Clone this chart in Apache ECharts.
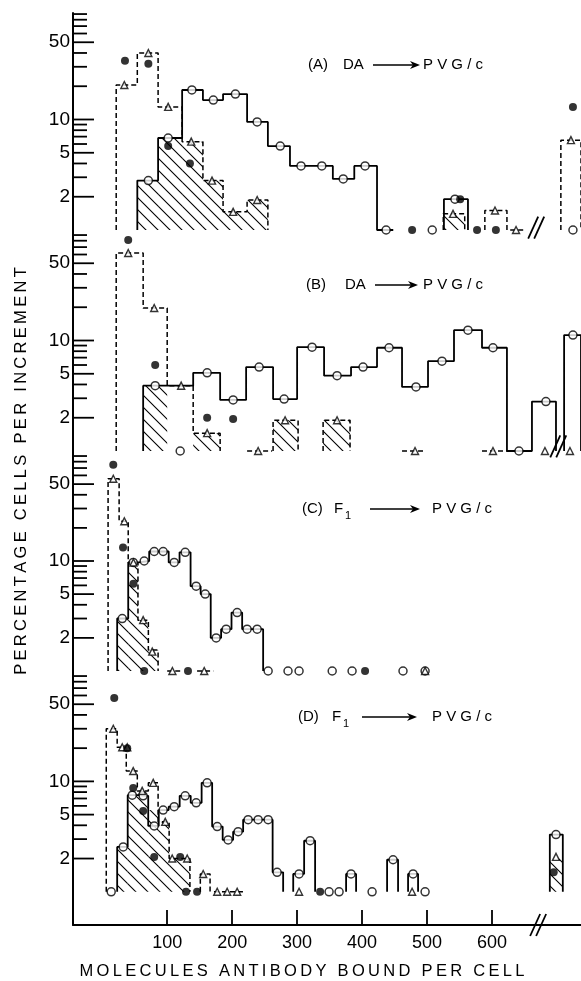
<!DOCTYPE html>
<html>
<head>
<meta charset="utf-8">
<script src="https://cdn.jsdelivr.net/npm/echarts@6/dist/echarts.min.js"></script>
<style>
html, body { margin: 0; background: #fff; }
#chart { width: 581px; height: 981px; }
</style>
</head>
<body>
<div id="chart"></div>
<script>
// x: molecules antibody bound per cell, y: percentage cells per increment (log)
var X_MIN = -45, X_MAX = 737, BASE = 1;
var xTicks = [100, 200, 300, 400, 500, 600];
var yMajor = [2, 5, 10, 50];
var yMinor = [3, 4, 6, 7, 8, 9, 20, 30, 40, 60, 70, 80, 90];

// (A) DA -> PVG/c
var aSolidEdges = [54, 86, 123, 155, 186, 223, 255, 289, 323, 355, 388, 423, 448, 526, 563];
var aSolidVals = [2.8, 6.8, 18.5, 15, 17, 9.5, 5.75, 3.8, 3.8, 2.9, 3.8, 1, null, 1.9];
var aDashEdges = [21.5, 54, 86, 123, 155, 186, 223, 255, 525, 558, 589, 623, 628, 651, 706, 737];
var aDashVals = [20.5, 40, 13, 6.3, 2.8, 1.46, 1.87, null, 1.4, null, 1.5, null, 1, null, 6.5];
var aOpen = [[71, 2.8], [101.5, 6.8], [138, 18.5], [171, 15], [205, 17], [238.5, 9.5], [274, 5.75],
  [306, 3.8], [338, 3.8], [371, 2.9], [404.6, 3.8], [437, 1], [508, 1], [543, 1.9], [724.6, 1]];
var aTri = [[34, 20.5], [71, 40], [101.5, 13], [137, 6.3], [169, 2.8], [201.5, 1.46], [238.5, 1.87],
  [540, 1.4], [604.6, 1.5], [637, 1], [721.5, 6.5]];
var aFilled = [[35, 34], [71, 32], [101.5, 5.75], [135, 4.0], [477, 1], [551, 1.9], [577, 1], [606, 1], [724.6, 13]];
var aHatch = [[54, 86, 2.8], [86, 123, 6.8], [123, 155, 6.3], [155, 186, 2.8], [186, 223, 1.46],
  [223, 255, 1.87], [525, 558, 1.4]];
var aBreak = [[668, 1.05]];

// (B) DA -> PVG/c
var bSolidEdges = [63, 100, 140, 181.5, 221.5, 263, 300, 341.5, 383, 423, 461.5, 501.5, 541.5, 584.6, 623, 661.5, 698.5, 711, 737];
var bSolidVals = [3.9, 3.9, 5.1, 2.9, 5.75, 2.95, 8.7, 4.8, 5.75, 8.6, 3.8, 6.5, 12.4, 8.6, 1, 2.8, null, 11.2];
var bDashEdges = [21.5, 63, 100, 140, 181.5, 223, 261.5, 263, 301.5, 340, 381.5, 461.5, 497, 584.6, 623];
var bDashVals = [62, 19.7, 3.9, 1.45, null, 1, null, 1.9, null, 1.9, null, 1, null, 1];
var bOpen = [[81.5, 3.9], [120, 1], [161.5, 5.1], [201.5, 2.9], [241.5, 5.75], [280, 2.95], [323, 8.7],
  [361.5, 4.8], [401.5, 5.75], [441.5, 8.6], [483, 3.8], [523, 6.5], [563, 12.4], [601.5, 8.6],
  [641.5, 1], [683, 2.8], [724.6, 11.2]];
var bTri = [[40, 62], [80, 19.7], [121.5, 3.9], [161.5, 1.45], [240, 1], [281.5, 1.9], [361.5, 1.9],
  [481.5, 1], [601.5, 1], [681.5, 1], [720, 1]];
var bFilled = [[40, 81], [81.5, 6.0], [161.5, 2.0], [201.5, 1.95]];
var bHatch = [[63, 100, 3.9], [140, 181.5, 1.45], [263, 301.5, 1.9], [340, 381.5, 1.9]];
var bBreak = [[702, 1.1]];

// (C) F1 -> PVG/c
var cSolidEdges = [23, 40, 56, 72.3, 87, 102.3, 119, 136, 151.5, 167, 183, 199, 215.4, 231, 247.7];
var cSolidVals = [3.0, 9.7, 10, 12.2, 12.2, 9.7, 12, 5.9, 5.0, 2.0, 2.4, 3.4, 2.4, 2.4];
var cDashEdges = [9, 26, 40, 55, 71, 86, 100, 120, 146, 171];
var cDashVals = [56, 23, 9.7, 2.9, 1.55, null, 1, null, 1];
var cOpen = [[30.8, 3.0], [47.7, 9.7], [64.6, 10], [80, 12.2], [93.8, 12.2], [110.8, 9.7], [127.7, 12],
  [144.6, 5.9], [158.5, 5], [175.4, 2.0], [190.8, 2.4], [207.7, 3.4], [223, 2.4], [238.5, 2.4],
  [255.4, 1], [286, 1], [303, 1], [354, 1], [384.6, 1], [463, 1], [497, 1]];
var cTri = [[17, 56], [34, 23], [48, 9.7], [63, 2.9], [77, 1.5], [108, 1], [157, 1], [497, 1]];
var cFilled = [[17, 75], [32, 13.3], [48, 6.2], [64.6, 1], [132, 1], [404.6, 1]];
var cHatch = [[23, 40, 3.0], [40, 55, 9.7], [55, 71, 2.9], [71, 86, 1.55]];
var cBreak = [];

// (D) F1 -> PVG/c
var dSolidEdges = [23, 39.2, 54.6, 70.8, 87, 102.3, 119.2, 136.2, 153, 169.2, 185.4, 201.5, 216.9, 232.3,
  247.7, 262.3, 278.5, 294, 310.8, 327.7, 375.4, 390.8, 438.5, 455.4, 470.8, 486.2, 689, 709];
var dSolidVals = [2.55, 7.5, 7.4, 3.95, 5.5, 5.9, 7.4, 6.4, 9.7, 3.9, 2.95, 3.5, 4.5, 4.5, 4.5, 1.5,
  null, 1.45, 2.9, null, 1.45, null, 1.95, null, 1.45, null, 3.3];
var dDashEdges = [6.2, 23, 37, 54, 71, 86, 103, 135, 151, 166, 172, 220];
var dDashVals = [30, 20.4, 12.4, 8.2, 9.7, 4.3, 2.0, null, 1.45, null, 1];
var dOpen = [[13.8, 1], [32.3, 2.55], [46.2, 7.5], [63, 7.4], [80, 3.95], [93.8, 5.5], [110.8, 5.9],
  [127.7, 7.4], [144.6, 6.4], [161.5, 9.7], [177, 3.9], [193.8, 2.95], [209.2, 3.5], [224.6, 4.5],
  [240, 4.5], [255.4, 4.5], [269.2, 1.5], [303, 1.45], [320, 2.9], [349.2, 1], [364.6, 1], [383, 1.45],
  [415.4, 1], [447.7, 1.95], [478.5, 1.45], [497, 1], [698.5, 3.3]];
var dTri = [[17, 30], [30.8, 20.4], [38.5, 20.4], [47.7, 12.4], [61.5, 8.2], [78.5, 9.7], [97, 4.3],
  [107.7, 2.0], [130.8, 2.0], [155.4, 1.45], [177, 1], [192.3, 1], [207.7, 1], [303, 1], [477, 1], [698.5, 2.07]];
var dFilled = [[18.5, 57], [38.5, 20], [47.7, 8.7], [63, 5.4], [80, 2.07], [120, 2.07], [129, 1], [146, 1],
  [335.4, 1], [695, 1.5]];
var dHatch = [[23, 39.2, 2.55], [39.2, 71, 7.4], [71, 86, 5.5], [86, 103, 4.3], [103, 135, 2.0], [689, 709, 2.0]];
var dBreak = [[671, 0.5]];

var panels = [
  { top: 13, height: 217, yMin: 1, yMax: 92, solidE: aSolidEdges, solidV: aSolidVals, dashE: aDashEdges, dashV: aDashVals,
    open: aOpen, tri: aTri, filled: aFilled, hatch: aHatch, brk: aBreak },
  { top: 230, height: 221, yMin: 1, yMax: 100, solidE: bSolidEdges, solidV: bSolidVals, dashE: bDashEdges, dashV: bDashVals,
    open: bOpen, tri: bTri, filled: bFilled, hatch: bHatch, brk: bBreak },
  { top: 451, height: 220, yMin: 1, yMax: 100, solidE: cSolidEdges, solidV: cSolidVals, dashE: cDashEdges, dashV: cDashVals,
    open: cOpen, tri: cTri, filled: cFilled, hatch: cHatch, brk: cBreak },
  { top: 671, height: 254, yMin: 0.5, yMax: 100, solidE: dSolidEdges, solidV: dSolidVals, dashE: dDashEdges, dashV: dDashVals,
    open: dOpen, tri: dTri, filled: dFilled, hatch: dHatch, brk: dBreak }
];

// hatch pattern, lines running down to the right
var hatchCanvas = document.createElement('canvas');
hatchCanvas.width = 12;
hatchCanvas.height = 12;
var hg = hatchCanvas.getContext('2d');
hg.strokeStyle = '#000';
hg.lineWidth = 1.1;
hg.beginPath();
hg.moveTo(-1, -1); hg.lineTo(13, 13);
hg.moveTo(-1, 11); hg.lineTo(1, 13);
hg.moveTo(11, -1); hg.lineTo(13, 1);
hg.stroke();
var hatchFill = { image: hatchCanvas, repeat: 'repeat' };

// histogram outline from bin edges; null = no bar in that bin
function stepPts(edges, vals) {
  var pts = [], open = false;
  for (var i = 0; i < vals.length; i++) {
    var v = vals[i];
    if (v == null) {
      if (open) { pts.push([edges[i], BASE]); pts.push([edges[i], '-']); open = false; }
      continue;
    }
    if (!open) { pts.push([edges[i], BASE]); open = true; }
    pts.push([edges[i], v], [edges[i + 1], v]);
  }
  if (open) pts.push([edges[vals.length], BASE]);
  return pts;
}

var tickData = yMajor.map(function (v) { return [X_MIN, v, 1]; })
  .concat(yMinor.map(function (v) { return [X_MIN, v, 0]; }));

function tickItem(params, api) {
  var v = api.value(1), major = api.value(2);
  var pt = api.coord([X_MIN, v]);
  var kids = [{
    type: 'line',
    shape: { x1: pt[0], y1: pt[1], x2: pt[0] + (major ? 21 : 14), y2: pt[1] },
    style: { stroke: '#000', lineWidth: 1.8 }
  }];
  if (major) {
    kids.push({
      type: 'text',
      style: { text: String(v), x: pt[0] - 3, y: pt[1], align: 'right', verticalAlign: 'middle',
        font: '19px "Liberation Sans"', fill: '#000' }
    });
  }
  return { type: 'group', children: kids };
}

function hatchItem(params, api) {
  var a = api.coord([api.value(0), api.value(2)]);
  var b = api.coord([api.value(1), BASE]);
  return {
    type: 'rect',
    shape: { x: a[0], y: a[1], width: b[0] - a[0], height: b[1] - a[1] },
    style: { fill: hatchFill }
  };
}

function breakItem(params, api) {
  var p = api.coord([api.value(0), api.value(1)]);
  var kids = [-3, 3].map(function (k) {
    return {
      type: 'line',
      shape: { x1: p[0] + k - 5, y1: p[1] + 11, x2: p[0] + k + 5, y2: p[1] - 11 },
      style: { stroke: '#000', lineWidth: 1.8 }
    };
  });
  return { type: 'group', children: kids };
}

var grids = [], xAxes = [], yAxes = [], series = [];
panels.forEach(function (p, i) {
  grids.push({ left: 73, width: 508, top: p.top, height: p.height });
  xAxes.push({
    gridIndex: i, type: 'value', min: X_MIN, max: X_MAX, show: i === 3,
    axisLine: { onZero: false, lineStyle: { color: '#000', width: 1.8 } },
    axisTick: { inside: true, length: 15, customValues: xTicks, lineStyle: { color: '#000', width: 1.8 } },
    axisLabel: { customValues: xTicks, margin: 9, fontSize: 18, fontFamily: 'Liberation Sans', color: '#000' },
    splitLine: { show: false }
  });
  yAxes.push({
    gridIndex: i, type: 'log', logBase: 10, min: p.yMin, max: p.yMax,
    axisLine: { show: true, onZero: false, lineStyle: { color: '#000', width: 2 } },
    axisTick: { show: false }, axisLabel: { show: false }, splitLine: { show: false }
  });
  var ax = { xAxisIndex: i, yAxisIndex: i, silent: true, animation: false };
  series.push(Object.assign({
    type: 'custom', data: p.hatch, encode: { x: [0, 1], y: 2 }, renderItem: hatchItem, clip: false, z: 1
  }, ax));
  series.push(Object.assign({
    type: 'line', data: stepPts(p.dashE, p.dashV), symbol: 'none', clip: false, z: 2,
    lineStyle: { color: '#000', width: 1.5, type: [5, 3] }
  }, ax));
  series.push(Object.assign({
    type: 'line', data: stepPts(p.solidE, p.solidV), symbol: 'none', clip: false, z: 3,
    lineStyle: { color: '#000', width: 1.8 }
  }, ax));
  series.push(Object.assign({
    type: 'scatter', data: p.open, symbol: 'circle', symbolSize: 8, clip: false, z: 5,
    itemStyle: { color: '#fff', borderColor: '#000', borderWidth: 1.5 }
  }, ax));
  series.push(Object.assign({
    type: 'scatter', data: p.tri, symbol: 'triangle', symbolSize: 7, clip: false, z: 6,
    itemStyle: { color: '#fff', borderColor: '#000', borderWidth: 1.4 }
  }, ax));
  series.push(Object.assign({
    type: 'scatter', data: p.filled, symbol: 'circle', symbolSize: 8, clip: false, z: 7,
    itemStyle: { color: '#000' }
  }, ax));
  series.push(Object.assign({
    type: 'custom', data: tickData.filter(function (t) { return t[1] <= p.yMax; }),
    encode: { x: 0, y: 1 }, renderItem: tickItem, clip: false, z: 8
  }, ax));
  if (p.brk.length) {
    series.push(Object.assign({
      type: 'custom', data: p.brk, encode: { x: 0, y: 1 }, renderItem: breakItem, clip: false, z: 9
    }, ax));
  }
});

// panel headings
var FONT = '"Liberation Sans"';
var heads = [
  { tag: '(A)', tagX: 308, y: 65, from: 'DA', fromX: 343, a0: 373, a1: 420, toX: 423, sub: false },
  { tag: '(B)', tagX: 306, y: 285, from: 'DA', fromX: 345, a0: 375, a1: 418, toX: 423, sub: false },
  { tag: '(C)', tagX: 302, y: 509, from: 'F', fromX: 334, a0: 370, a1: 420, toX: 432, sub: true },
  { tag: '(D)', tagX: 298, y: 717, from: 'F', fromX: 332, a0: 362, a1: 417, toX: 432, sub: true }
];
function txt(s, x, y, size, extra) {
  return Object.assign({
    type: 'text', x: x, y: y,
    style: { text: s, font: size + 'px ' + FONT, fill: '#000', verticalAlign: 'middle' }
  }, extra || {});
}
var graphics = [];
heads.forEach(function (h) {
  graphics.push(txt(h.tag, h.tagX, h.y, 15));
  graphics.push(txt(h.from, h.fromX, h.y, 15));
  if (h.sub) graphics.push(txt('1', h.fromX + 11, h.y + 7, 11));
  graphics.push({ type: 'line', shape: { x1: h.a0, y1: h.y, x2: h.a1 - 4, y2: h.y }, style: { stroke: '#000', lineWidth: 1.3 } });
  graphics.push({ type: 'polygon', shape: { points: [[h.a1 - 10, h.y - 4], [h.a1, h.y], [h.a1 - 10, h.y + 4], [h.a1 - 7, h.y]] },
    style: { fill: '#000' } });
  graphics.push(txt('P V G / c', h.toX, h.y, 15));
});

function spaced(s) { return s.split('').join('\u2009'); }
graphics.push({
  type: 'text', x: 302, y: 971,
  style: { text: spaced('MOLECULES ANTIBODY BOUND PER CELL'), font: '16.5px ' + FONT, fill: '#000',
    align: 'center', verticalAlign: 'middle' }
});
graphics.push({
  type: 'text', x: 21, y: 471, rotation: Math.PI / 2,
  style: { text: spaced('PERCENTAGE CELLS PER INCREMENT'), font: '16.5px ' + FONT, fill: '#000',
    align: 'center', verticalAlign: 'middle' }
});

var chart = echarts.init(document.getElementById('chart'));
chart.setOption({
  animation: false,
  backgroundColor: '#fff',
  grid: grids,
  xAxis: xAxes,
  yAxis: yAxes,
  series: series,
  graphic: graphics
});
window.addEventListener('resize', function () { chart.resize(); });
</script>
</body>
</html>
